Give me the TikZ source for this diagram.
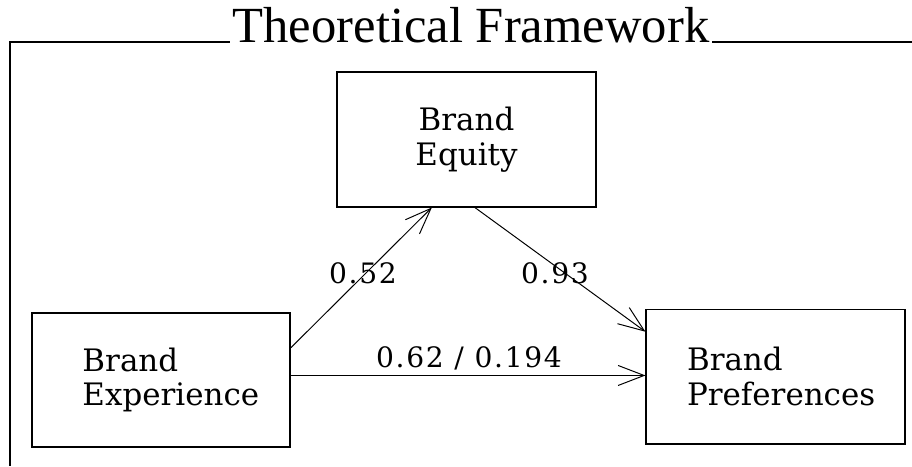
\documentclass[tikz,border=0pt]{standalone}
\usepackage{fontspec}
\setmainfont{DejaVu Serif}
\newfontfamily\titlefont{Liberation Serif}
\usepackage{tikz}
\usetikzlibrary{positioning,arrows.meta}
\tikzset{d/.style={line width=0.7pt}}

\begin{document}
\begin{tikzpicture}[x=0.025cm,y=-0.025cm,
box/.style={rectangle, draw=black, line width=1.4pt, minimum width=6.45cm, minimum height=3.35cm, align=left, font=\fontsize{22}{24.5}\selectfont},
coef/.style={font=\fontsize{20}{22}\selectfont\addfontfeature{LetterSpace=6}},
arr/.style={-{Straight Barb[length=6.5mm,width=5mm]}},
]
\useasboundingbox (0,0) rectangle (912,466);
% frame with its heading
\node[font=\titlefont\fontsize{36}{40}\selectfont, inner sep=2pt] (title) at (471,25) {Theoretical Framework};
\coordinate (tl) at (10,42);
\coordinate (tr) at (912,42);
\coordinate (bl) at (10,466);
\draw[line width=1.4pt] (title.west |- tl) -- (tl) -- (bl);
\draw[line width=1.4pt] (title.east |- tr) -- (tr);
% the three constructs
\node[box, align=center] (EQ) at (466.5,139.5) {Brand\\Equity};
\node[box] (EX) at (161,380) {\hspace*{14pt}Brand\\\hspace*{14pt}Experience};
\node[box] (PR) at (775.5,376.5) {\hspace*{8pt}Brand\\\hspace*{8pt}Preferences};
% paths
\draw[d,arr] (EX.14.3) -- (EQ.243.6);
\draw[d,arr] (EQ.277.2) -- (PR.161.4);
\draw[d,arr] (EX.2.2) -- (EX.2.2 -| PR.west);
% coefficients
\node[coef] (c1) at (363,273) {0.52};
\node[coef] (c2) at (555,273) {0.93};
\node[coef] (c3) at (469,358) {0.62 / 0.194};
\end{tikzpicture}
\end{document}
